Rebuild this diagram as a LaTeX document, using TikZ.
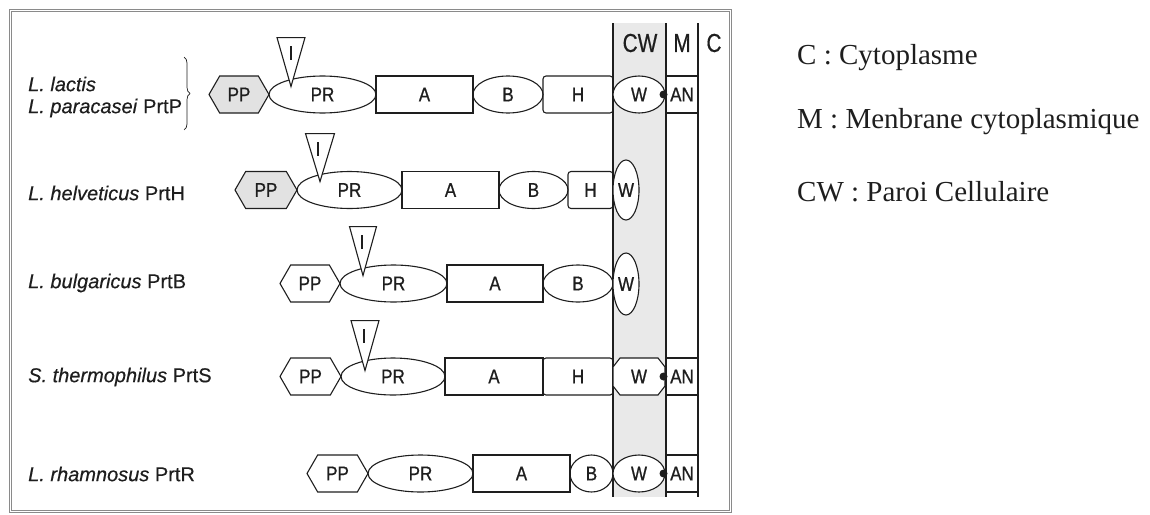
\documentclass[tikz,border=0pt]{standalone}
\usepackage{fontspec}
\setmainfont{Liberation Serif}
\setsansfont{Liberation Sans}
\newfontfamily\condsans[FakeStretch=0.85, FakeBold=0.8]{Liberation Sans}
\newfontfamily\hdsans[FakeStretch=0.8, FakeBold=0.5]{Liberation Sans}
\newfontfamily\spsans[FakeBold=0.4]{Liberation Sans}
\usetikzlibrary{shapes.geometric,shapes.symbols,decorations.pathreplacing}
\definecolor{ink}{HTML}{1E1E1E}
\definecolor{band}{HTML}{E9E9E9}
\definecolor{ppfill}{HTML}{E2E2E2}
\definecolor{framecol}{HTML}{8A8A8A}
\tikzset{
  dom/.style={draw=ink, line width=1.1pt, inner sep=0pt, font=\condsans\fontsize{20}{20}\selectfont, text=ink},
  hexbox/.style={dom, signal, signal to=west and east, signal pointer angle=120, minimum height=37pt},
  ellbox/.style={dom, ellipse, minimum height=37pt},
  rectbox/.style={dom, rectangle, minimum height=37pt},
  roundbox/.style={rectbox, rounded corners=3pt},
  wtext/.style={inner sep=0pt, font=\condsans\fontsize{20}{20}\selectfont, text=ink, minimum width=52pt, minimum height=37pt},
  octline/.style={draw=ink, line width=1.1pt, fill=white},
  tribox/.style={draw=ink, line width=1.1pt, isosceles triangle, isosceles triangle stretches, shape border rotate=270, inner sep=0pt, anchor=apex},
  itext/.style={font=\condsans\fontsize{20}{20}\selectfont, text=ink, inner sep=0pt},
  anbox/.style={dom, rectangle, minimum width=32pt, minimum height=37pt},
  anchordot/.style={circle, fill=ink, inner sep=0pt, minimum size=8pt},
  species/.style={anchor=west, inner sep=0pt, font=\spsans\fontsize{20}{20}\selectfont, text=ink},
  legend/.style={anchor=west, inner sep=0pt, font=\rmfamily\fontsize{29}{29}\selectfont, text=ink},
  header/.style={inner sep=0pt, font=\hdsans\fontsize{26}{26}\selectfont, text=ink},
  memline/.style={draw=ink, line width=1.7pt},
}
\begin{document}
\begin{tikzpicture}[x=1pt,y=-1pt]
\useasboundingbox (0,0) rectangle (1150,514);
% frame
\draw[framecol, line width=1pt, double, double distance=1.6pt] (10.5,10.5) rectangle (730.5,511.5);
% cell wall band and membrane lines
\fill[band] (613,23) rectangle (666,497);
\coordinate (cwtop) at (613,23); \coordinate (cwbot) at (613,497);
\coordinate (mtop) at (666,23); \coordinate (mbot) at (666,497);
\coordinate (ctop) at (698,23); \coordinate (cbot) at (698,497);
\draw[memline] (cwtop) -- (cwbot);
\draw[memline] (mtop) -- (mbot);
\draw[memline] (ctop) -- (cbot);
\node[header] (hcw) at (640,43) {CW};
\node[header] (hm) at (682,43) {M};
\node[header] (hc) at (714,43) {C};

% species labels
\node[species] (lac) at (28,84) {\textit{L. lactis}};
\node[species] (par) at (28,108) {\textit{L. paracasei} PrtP};
\coordinate (brt) at (184,57); \coordinate (brb) at (184,130);
\draw[ink, line width=0.7pt, decorate, decoration={brace, amplitude=6pt}] (brt) -- (brb);
\node[species] (hel) at (28,193) {\textit{L. helveticus} PrtH};
\node[species] (bul) at (28,283) {\textit{L. bulgaricus} PrtB};
\node[species] (the) at (28,377) {\textit{S. thermophilus} PrtS};
\node[species] (rha) at (28,474) {\textit{L. rhamnosus} PrtR};

% Row 1
\node[hexbox, fill=ppfill, minimum width=60pt] (pp1) at (239,94.5) {PP};
\node[ellbox, minimum width=107pt] (pr1) at (322.5,94.5) {PR};
\node[rectbox, minimum width=97pt] (a1) at (424.5,94.5) {A};
\node[ellbox, minimum width=70pt] (b1) at (508,94.5) {B};
\node[roundbox, minimum width=70pt] (h1) at (578,94.5) {H};
\node[ellbox, fill=white, minimum width=52pt] (w1) at (639,94.5) {W};
\node[anbox] (an1) at (682,94.5) {AN};
\node[anchordot] (d1) at (663.5,94.5) {};
\node[tribox, fill=white, minimum width=28pt, minimum height=49pt] (t1) at (291,88) {};
\node[itext] (i1) at (291,53) {I};

% Row 2
\node[hexbox, fill=ppfill, minimum width=62pt] (pp2) at (266,190) {PP};
\node[ellbox, minimum width=105pt] (pr2) at (349.5,190) {PR};
\node[rectbox, minimum width=97pt] (a2) at (450.5,190) {A};
\node[ellbox, minimum width=69pt] (b2) at (533.5,190) {B};
\node[roundbox, minimum width=45pt] (h2) at (590.5,190) {H};
\node[dom, ellipse, fill=white, minimum width=26pt, minimum height=60pt] (w2) at (626,190) {W};
\node[tribox, fill=white, minimum width=29pt, minimum height=48pt] (t2) at (320,183) {};
\node[itext] (i2) at (318,149) {I};

% Row 3
\node[hexbox, minimum width=60pt] (pp3) at (310,283.5) {PP};
\node[ellbox, minimum width=107pt] (pr3) at (393.5,283.5) {PR};
\node[rectbox, minimum width=96pt] (a3) at (495,283.5) {A};
\node[ellbox, minimum width=70pt] (b3) at (578,283.5) {B};
\node[dom, ellipse, fill=white, minimum width=26pt, minimum height=62pt] (w3) at (626,284) {W};
\node[tribox, fill=white, minimum width=27pt, minimum height=49pt] (t3) at (363,277) {};
\node[itext] (i3) at (362,242) {I};

% Row 4
\node[hexbox, minimum width=61pt] (pp4) at (310.5,376.5) {PP};
\node[ellbox, minimum width=104pt] (pr4) at (393,376.5) {PR};
\node[rectbox, minimum width=98pt] (a4) at (494,376.5) {A};
\node[roundbox, minimum width=70pt] (h4) at (578,376.5) {H};
\filldraw[octline] (620,358) -- (658,358) -- (665,367) -- (665,386) -- (658,395) -- (620,395) -- (613,386) -- (613,367) -- cycle;
\node[wtext] (w4) at (639,376.5) {W};
\node[anbox] (an4) at (682,376.5) {AN};
\node[anchordot] (d4) at (663.5,376.5) {};
\node[tribox, fill=white, minimum width=28pt, minimum height=50pt] (t4) at (365,372) {};
\node[itext] (i4) at (364,336) {I};

% Row 5
\node[hexbox, minimum width=61pt] (pp5) at (337.5,473.5) {PP};
\node[ellbox, minimum width=105pt] (pr5) at (420.5,473.5) {PR};
\node[rectbox, minimum width=97pt] (a5) at (521.5,473.5) {A};
\node[ellbox, minimum width=43pt] (b5) at (591.5,473.5) {B};
\node[ellbox, fill=white, minimum width=52pt] (w5) at (639,473.5) {W};
\node[anbox] (an5) at (682,473.5) {AN};
\node[anchordot] (d5) at (663.5,473.5) {};

% legend
\node[legend] (lgc) at (797,58) {C : Cytoplasme};
\node[legend] (lgm) at (797,122) {M : Menbrane cytoplasmique};
\node[legend] (lgw) at (797,192) {CW : Paroi Cellulaire};
\end{tikzpicture}
\end{document}
